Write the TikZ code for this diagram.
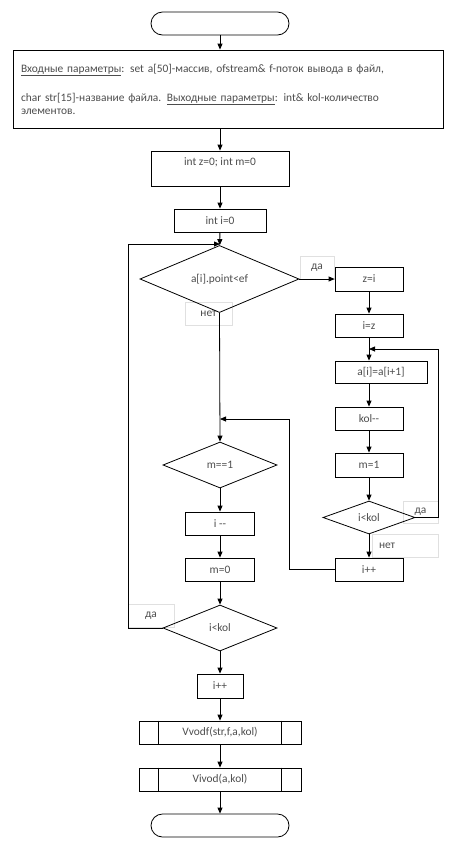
\documentclass[tikz,border=0pt]{standalone}
\usepackage{fontspec}
\setmainfont{Carlito}
\usepackage{tikz}
\usetikzlibrary{shapes.geometric,shapes.misc,arrows.meta}

\begin{document}
\begin{tikzpicture}[x=1pt, y=-1pt, line width=0.8pt,
  every node/.style={font=\fontsize{11.4}{13}\selectfont, text=black!70, inner sep=0pt},
  block/.style={draw=black, rectangle, minimum width=68pt, minimum height=23pt},
  cond/.style={draw=black, diamond, minimum width=114pt, minimum height=46pt},
  term/.style={draw=black, rounded rectangle, minimum width=138pt, minimum height=23pt},
  sub/.style={block, minimum width=162pt},
  tag/.style={draw=black!12, line width=0.5pt, minimum height=23pt},
  arr/.style={-{Triangle[length=6pt,width=5pt]}}]
  \useasboundingbox (0,0) rectangle (459,847);

  \node[tag, minimum width=34pt] (tda1) at (317,267.5) {да};
  \node[tag, minimum width=47pt] (tnet1) at (208.5,314) {нет};
  \node[tag, minimum width=35pt, minimum height=22pt] (tda2) at (420.5,512) {да};
  \node[tag, minimum width=66pt, text width=52pt, align=left] (tnet2) at (405,545.5) {нет};
  \node[tag, minimum width=46pt] (tda3) at (151,616) {да};

  \node[term] (start) at (220,23.5) {};
  \node[block, minimum width=430pt, minimum height=78pt, text width=414pt, align=left] (par) at (228,89)
    {\underline{Входные параметры}: set a[50]-массив, ofstream\& f-поток вывода в файл,\\[16pt]
     char str[15]-название файла. \underline{Выходные параметры}: int\& kol-количество\\
     элементов.};
  \node[block, minimum width=138pt, minimum height=35pt, text height=7pt, text depth=13pt] (zm) at (220,168.5) {int z=0; int m=0};
  \node[block, minimum width=92pt] (i0) at (220,220.5) {int i=0};
  \node[cond, minimum width=159pt] (d1) at (219.5,279) {a[i].point<ef};
  \node[block, minimum height=24pt] (zi) at (369,279) {z=i};
  \node[block] (iz) at (369,325.5) {i=z};
  \node[block, minimum width=92pt, minimum height=22pt] (ai) at (381,372) {a[i]=a[i+1]};
  \node[block] (kol) at (369,418.5) {kol{-}{-}};
  \node[block, minimum height=24pt] (m1) at (369,465) {m=1};
  \node[cond, minimum width=92pt, minimum height=33pt] (d2) at (369,517.5) {i<kol};
  \node[block] (ipp) at (369,569.5) {i++};
  \node[cond] (mm) at (220,465) {m==1};
  \node[block, minimum width=69pt] (idec) at (220,523.5) {i {-}{-}};
  \node[block, minimum width=69pt] (m0) at (220,569.5) {m=0};
  \node[cond] (d3) at (220,628) {i<kol};
  \node[block, minimum width=46pt, minimum height=24pt] (ipp2) at (220,686) {i++};
  \node[sub] (vv) at (220,732.5) {Vvodf(str,f,a,kol)};
  \node[sub] (vi) at (220,779.5) {Vivod(a,kol)};
  \node[term] (stop) at (220,825.5) {};
  \foreach \n in {vv,vi} {
    \draw ([xshift=20pt]\n.north west) -- ([xshift=20pt]\n.south west);
    \draw ([xshift=-20pt]\n.north east) -- ([xshift=-20pt]\n.south east);
  }

  \coordinate (ji) at (220,244);
  \coordinate (jl) at (220,419);
  \coordinate (jr) at (369,349);
  \coordinate (loopl) at (128,244);
  \coordinate (loopr) at (438,349);
  \coordinate (back) at (289,419);

  \draw[arr] (start.south) -- (start.south |- par.north);
  \draw[arr] (par.south -| zm.north) -- (zm.north);
  \draw[arr] (zm) -- (i0);
  \draw[arr] (i0) -- (d1);
  \draw[arr] (d1.east) -- (zi.west);
  \draw[arr] (zi) -- (iz);
  \draw[arr] (iz.south) -- (iz.south |- ai.north);
  \draw[arr] (ai.south -| kol.north) -- (kol.north);
  \draw[arr] (kol) -- (m1);
  \draw[arr] (m1) -- (d2);
  \draw[arr] (d2) -- (ipp);
  \draw[arr] (d2.east) -| (loopr) -- (jr);
  \draw[arr] (ipp.west) -| (back) -- (jl);
  \draw[arr] (d1.south) -- (mm.north);
  \draw[arr] (mm) -- (idec);
  \draw[arr] (idec) -- (m0);
  \draw[arr] (m0) -- (d3);
  \draw[arr] (d3.west) -| (loopl) -- (ji);
  \draw[arr] (d3) -- (ipp2);
  \draw[arr] (ipp2) -- (vv);
  \draw[arr] (vv) -- (vi);
  \draw[arr] (vi) -- (stop);
\end{tikzpicture}
\end{document}
